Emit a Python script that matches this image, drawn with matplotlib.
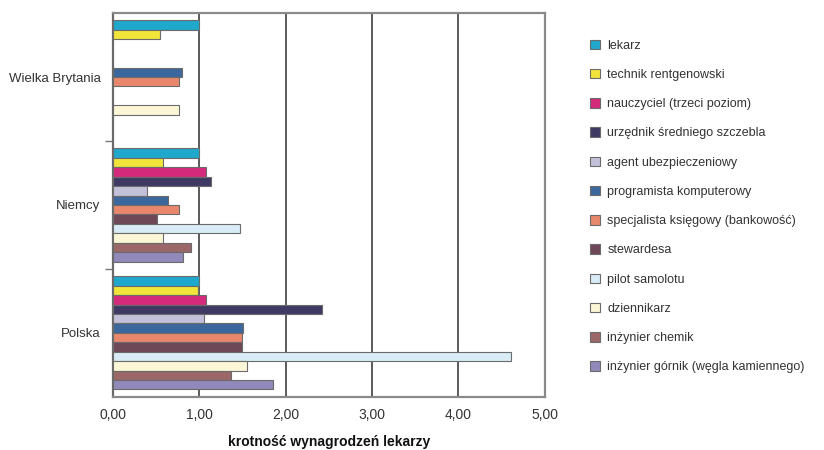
import numpy as np
import matplotlib
matplotlib.use('Agg')
import matplotlib.pyplot as plt
from matplotlib import font_manager

# Pick a condensed face if one is installed
names = {f.name for f in font_manager.fontManager.ttflist}
family = 'Liberation Sans Narrow' if 'Liberation Sans Narrow' in names else 'Liberation Sans'
plt.rcParams['font.family'] = [family, 'DejaVu Sans']

countries = ['Wielka Brytania', 'Niemcy', 'Polska']
professions = ['lekarz', 'technik rentgenowski', 'nauczyciel (trzeci poziom)',
               'urzędnik średniego szczebla', 'agent ubezpieczeniowy',
               'programista komputerowy', 'specjalista księgowy (bankowość)',
               'stewardesa', 'pilot samolotu', 'dziennikarz', 'inżynier chemik',
               'inżynier górnik (węgla kamiennego)']
colors = ['#1fa8cb', '#f1e43a', '#d42a7c', '#3f3a64', '#c3c0da', '#3c679d',
          '#e8876c', '#6f4858', '#d9ecf5', '#fbf7d6', '#9c6768', '#9189b9']

# wage multiples relative to a doctor, one list per country (None = no data)
uk = [1.00, 0.55, None, None, None, 0.80, 0.77, None, None, 0.76, None, None]
de = [1.00, 0.58, 1.08, 1.14, 0.39, 0.64, 0.77, 0.51, 1.47, 0.58, 0.90, 0.81]
pl = [1.00, 0.99, 1.08, 2.42, 1.06, 1.51, 1.50, 1.49, 4.61, 1.55, 1.37, 1.85]
values = [uk, de, pl]

xticks = [0, 1, 2, 3, 4, 5]
xticklabels = ['0,00', '1,00', '2,00', '3,00', '4,00', '5,00']

fig = plt.figure(figsize=(8.24, 4.5), dpi=100)
ax = fig.add_axes([0.137, 0.118, 0.524, 0.853])

n = len(professions)
h = 0.884 / n
handles = []
for j, prof in enumerate(professions):
    ys, ws = [], []
    for i, row in enumerate(values):
        if row[j] is not None:
            ys.append(i - 0.442 + (j + 0.5) * h)
            ws.append(row[j])
    b = ax.barh(ys, ws, height=h, color=colors[j], edgecolor='#6b6b6b',
                linewidth=0.8, label=prof, zorder=3)
    handles.append(b)

ax.set_xlim(0, 5)
ax.set_ylim(2.5, -0.5)
ax.set_xticks(xticks)
ax.set_xticklabels(xticklabels, fontsize=10, color='#333333')
ax.set_yticks(range(len(countries)))
ax.set_yticklabels(countries, fontsize=9.5, color='#333333')
ax.set_yticks([0.5, 1.5], minor=True)
ax.tick_params(axis='y', which='major', length=0, pad=9)
ax.tick_params(axis='y', which='minor', length=6, width=1, color='#777777')
ax.tick_params(axis='x', length=0, pad=8)

for x in xticks[1:-1]:
    ax.axvline(x, color='#5a5a5a', linewidth=1.4, zorder=1)
for side, sp in ax.spines.items():
    sp.set_color('#8a8a8a')
    sp.set_linewidth(1.6)
ax.spines['left'].set_color('#6a6a6a')

ax.set_xlabel('krotność wynagrodzeń lekarzy', fontsize=10, fontweight='bold',
              color='#111111', labelpad=9)

fig.legend(handles=handles, loc='upper left', bbox_to_anchor=(0.702, 0.937),
           frameon=False, fontsize=9, labelspacing=1.37, handlelength=0.8,
           handleheight=0.8, handletextpad=0.6, labelcolor='#333333')

fig.savefig('out.png', dpi=100)
